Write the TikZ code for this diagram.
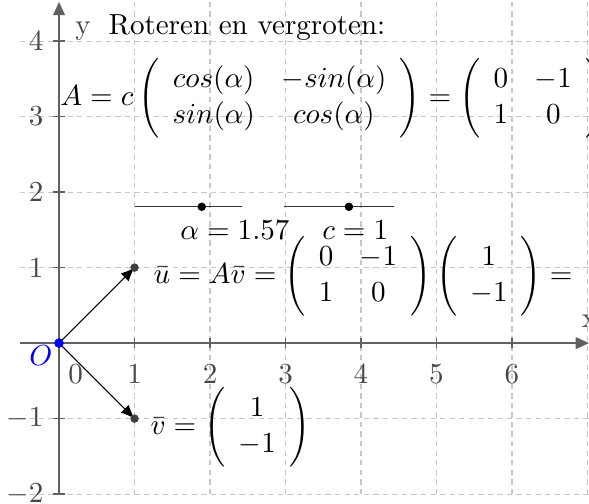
\documentclass[tikz,border=0pt]{standalone}
\usetikzlibrary{arrows.meta}
\begin{document}
\begin{tikzpicture}[x=1cm,y=1cm,
  every node/.append style={font=\fontsize{10.95}{13.6}\selectfont},
  gridline/.style={draw=black!22, dash pattern=on 2pt off 1.6pt, line width=0.4pt},
  axisline/.style={draw=black!62, line width=0.6pt, -{Triangle[length=5pt,width=4.4pt]}},
  axtick/.style={draw=black!62, line width=0.6pt},
  ticklabel/.style={text=black!72, inner sep=0pt},
  vecline/.style={draw=black, line width=0.4pt, -{Latex[length=5.2pt,width=4.2pt]}},
  ptdot/.style={circle, fill=black!75, inner sep=0pt, minimum size=3.2pt},
  sliderline/.style={draw=black!80, line width=0.5pt},
  sliderdot/.style={circle, fill=black, inner sep=0pt, minimum size=3.2pt},
  txt/.style={inner sep=0pt}
]
\useasboundingbox (-0.782,-2.131) rectangle (7.02,4.545);
\begin{scope}
\clip (-0.782,-2.131) rectangle (7.02,4.545);
% grid
\foreach \gy in {-2,-1,1,2,3,4}
  \draw[gridline] (-0.52,\gy) -- (7.02,\gy);
\foreach \gx in {1,...,7}
  \draw[gridline] (\gx,-2) -- (\gx,4.6);
% axes
\coordinate (xs) at (-0.52,0);
\coordinate (xe) at (7.02,0);
\coordinate (ys) at (0,-2);
\coordinate (ye) at (0,4.52);
\draw[axisline] (xs) -- (xe);
\draw[axisline] (ys) -- (ye);
\foreach \tx in {1,...,6}
  \draw[axtick] (\tx,-0.07) -- (\tx,0.07);
\foreach \ty in {-2,-1,1,2,3,4}
  \draw[axtick] (-0.08,\ty) -- (0.08,\ty);
% tick labels
\node[ticklabel, anchor=north] (lx0) at (0.22,-0.27) {0};
\foreach \tx in {1,...,6}
  \node[ticklabel, anchor=north] (lx\tx) at (\tx,-0.27) {\tx};
\foreach \ty in {1,2,3,4}
  \node[ticklabel, anchor=east] (ly\ty) at (-0.2,\ty) {\ty};
\foreach \ty in {-1,-2}
  \node[ticklabel, anchor=east] (ly\ty) at (-0.2,\ty) {$\ty$};
\node[txt, anchor=base west, text=black!72] (ylab) at (0.21,4.09) {y};
\node[txt, anchor=base west, text=black!72] (xlab) at (6.92,0.21) {x};
% title
\node[txt, anchor=base west] (title) at (0.65,4.09) {Roteren en vergroten:};
% matrix A
\node[txt, anchor=west] (Aeq) at (0.01,3.24)
  {$A=c\left(\begin{array}{cc} cos(\alpha) & -sin(\alpha)\\ sin(\alpha) & cos(\alpha)\end{array}\right)=\left(\begin{array}{cc} 0 & -1\\ 1 & 0\end{array}\right)$};
% sliders
\coordinate (a1) at (1,1.806);
\coordinate (a2) at (2.43,1.806);
\coordinate (c1) at (2.98,1.806);
\coordinate (c2) at (4.44,1.806);
\draw[sliderline] (a1) -- (a2);
\draw[sliderline] (c1) -- (c2);
\node[sliderdot] (ap) at (1.89,1.806) {};
\node[sliderdot] (cp) at (3.84,1.806) {};
\node[txt, anchor=base west] (alab) at (1.60,1.37) {$\alpha = 1.57$};
\node[txt, anchor=base west] (clab) at (3.48,1.37) {$c = 1$};
% u equation
\node[txt, anchor=west] (ueq) at (1.245,0.88)
  {$\bar{u} = A\bar{v} = \left(\begin{array}{cc} 0 & -1\\ 1 & 0\end{array}\right)\left(\begin{array}{c} 1\\ -1\end{array}\right) =$};
% v equation
\node[txt, anchor=west] (veq) at (1.205,-1.11)
  {$\bar{v} = \left(\begin{array}{c} 1\\ -1\end{array}\right)$};
% vectors
\coordinate (O) at (0,0);
\coordinate (U) at (1,1);
\coordinate (V) at (1,-1);
\draw[vecline] (O) -- (U);
\draw[vecline] (O) -- (V);
\node[ptdot] (Up) at (U) {};
\node[ptdot] (Vp) at (V) {};
\node[circle, fill=blue, inner sep=0pt, minimum size=3.6pt] (Op) at (O) {};
\node[txt, text=blue] (Olab) at (-0.24,-0.17) {$O$};
\end{scope}
\end{tikzpicture}
\end{document}
